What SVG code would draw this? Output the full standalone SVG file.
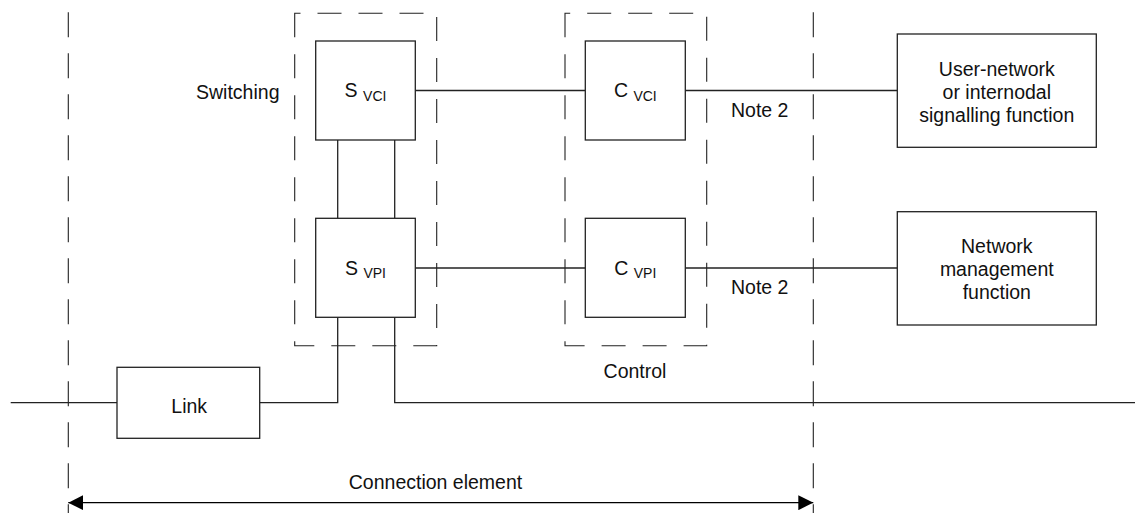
<svg xmlns="http://www.w3.org/2000/svg" width="1135" height="513" viewBox="0 0 1135 513">
<defs>
<marker id="ah" viewBox="0 0 15 15" refX="15" refY="7.5" markerWidth="15" markerHeight="15" markerUnits="userSpaceOnUse" orient="auto-start-reverse">
<path d="M0,0 L15,7.5 L0,15 Z" fill="#000"/>
</marker>
<style>
.box{fill:#fff;stroke:#222;stroke-width:1.3}
.ln{fill:none;stroke:#222;stroke-width:1.3}
.dash{fill:none;stroke:#222;stroke-width:1.1;stroke-dasharray:24 17}
.vdash{fill:none;stroke:#222;stroke-width:1.1;stroke-dasharray:25 16}
text{font-family:"Liberation Sans",Arial,sans-serif;font-size:19.5px;fill:#111}
.c{text-anchor:middle}
.sub{font-size:14px}
</style>
</defs>
<rect width="1135" height="513" fill="#fff"/>
<g id="boundaries">
<line class="vdash" x1="68.3" y1="12.3" x2="68.3" y2="513"/>
<line class="vdash" x1="813.3" y1="12.3" x2="813.3" y2="513"/>
<path id="switching-group" class="dash" d="M294.7,13.3 V345.7 H436.7 V13.3 Z"/>
<path id="control-group" class="dash" d="M565,13.3 V345.7 H706.7 V13.3 Z"/>
</g>
<g id="connectors">
<line class="ln" x1="415.3" y1="90.5" x2="585.3" y2="90.5"/>
<line class="ln" x1="685.3" y1="90.5" x2="897.3" y2="90.5"/>
<line class="ln" x1="415.3" y1="268" x2="585.3" y2="268"/>
<line class="ln" x1="685.3" y1="268" x2="897.3" y2="268"/>
<line class="ln" x1="337.7" y1="140" x2="337.7" y2="218.3"/>
<line class="ln" x1="394.7" y1="140" x2="394.7" y2="218.3"/>
<line class="ln" x1="10.7" y1="402.7" x2="117" y2="402.7"/>
<polyline class="ln" points="259.7,402.7 337.7,402.7 337.7,317.3"/>
<polyline class="ln" points="394.7,317.3 394.7,402.7 1135,402.7"/>
<line x1="68.3" y1="502.7" x2="813.3" y2="502.7" stroke="#000" stroke-width="1.3" marker-start="url(#ah)" marker-end="url(#ah)"/>
</g>
<g id="s-vci">
<rect class="box" x="315.7" y="41" width="99.6" height="99"/>
<text class="c" x="365.5" y="97.3">S <tspan class="sub" dy="3.4">VCI</tspan></text>
</g>
<g id="s-vpi">
<rect class="box" x="315.7" y="218.3" width="99.6" height="99"/>
<text class="c" x="365.5" y="274.5">S <tspan class="sub" dy="3.4">VPI</tspan></text>
</g>
<g id="c-vci">
<rect class="box" x="585.3" y="41" width="100" height="99"/>
<text class="c" x="635.3" y="97.3">C <tspan class="sub" dy="3.4">VCI</tspan></text>
</g>
<g id="c-vpi">
<rect class="box" x="585.3" y="218.3" width="100" height="99"/>
<text class="c" x="635.3" y="275">C <tspan class="sub" dy="3.4">VPI</tspan></text>
</g>
<g id="signalling">
<rect class="box" x="897.3" y="34" width="199" height="113.3"/>
<text class="c" x="996.8" y="75.7">User-network</text>
<text class="c" x="996.8" y="99">or internodal</text>
<text class="c" x="996.8" y="122.3">signalling function</text>
</g>
<g id="management">
<rect class="box" x="897.3" y="211.7" width="199" height="113.3"/>
<text class="c" x="996.8" y="252.7">Network</text>
<text class="c" x="996.8" y="276">management</text>
<text class="c" x="996.8" y="299.3">function</text>
</g>
<g id="link">
<rect class="box" x="117" y="367.3" width="142.7" height="71"/>
<text class="c" x="189.2" y="413.3">Link</text>
</g>
<g id="labels">
<text x="279.5" y="99.3" text-anchor="end">Switching</text>
<text class="c" x="635" y="378.3">Control</text>
<text x="731" y="117.3">Note 2</text>
<text x="731" y="294">Note 2</text>
<text class="c" x="435.5" y="489.3">Connection element</text>
</g>
</svg>
